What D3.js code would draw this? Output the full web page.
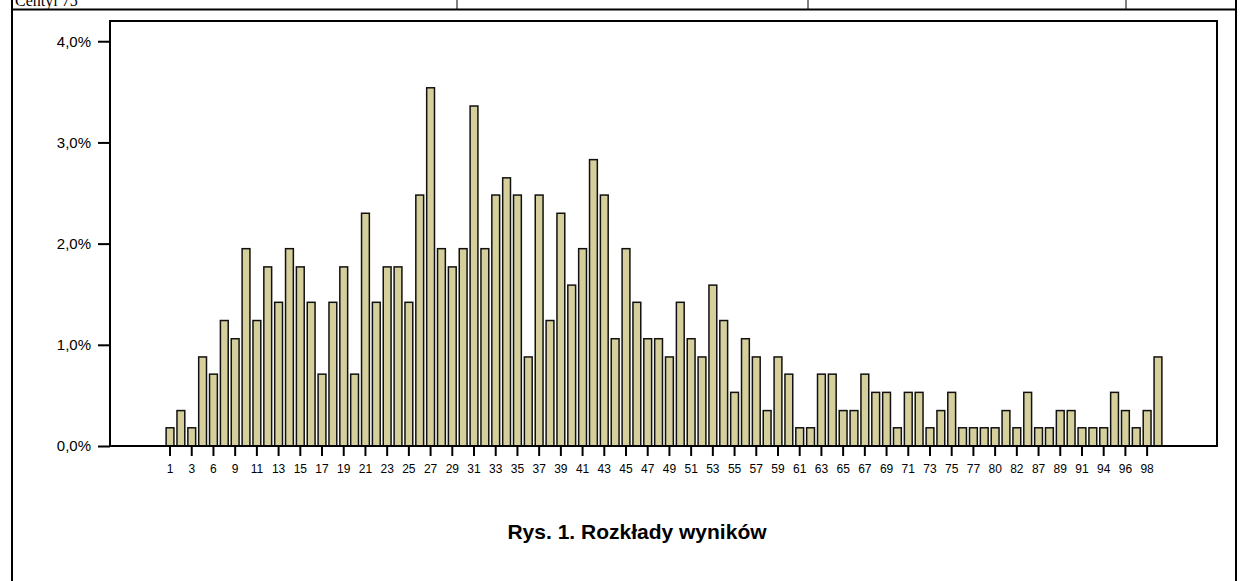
<!DOCTYPE html>
<html>
<head>
<meta charset="utf-8">
<script src="https://cdn.jsdelivr.net/npm/d3@7"></script>
<style>
  body { margin: 0; background: #fff; }
  svg { display: block; }
  .tick text { font-family: "Liberation Sans", Arial, sans-serif; fill: #000; }
</style>
</head>
<body>
<div id="chart"></div>
<script>
// score categories (one bar each) and share of pupils, in percent
var categories = [1, 2, 3, 5, 6, 8, 9, 10, 11, 12, 13, 14, 15, 16, 17, 18, 19, 20, 21, 22,
  23, 24, 25, 26, 27, 28, 29, 30, 31, 32, 33, 34, 35, 36, 37, 38, 39, 40, 41, 42,
  43, 44, 45, 46, 47, 48, 49, 50, 51, 52, 53, 54, 55, 56, 57, 58, 59, 60, 61, 62,
  63, 64, 65, 66, 67, 68, 69, 70, 71, 72, 73, 74, 75, 76, 77, 79, 80, 81, 82, 84,
  87, 88, 89, 90, 91, 93, 94, 95, 96, 97, 98, 99];

var percents = [0.18, 0.35, 0.18, 0.88, 0.71, 1.24, 1.06, 1.95, 1.24, 1.77,
  1.42, 1.95, 1.77, 1.42, 0.71, 1.42, 1.77, 0.71, 2.30, 1.42,
  1.77, 1.77, 1.42, 2.48, 3.54, 1.95, 1.77, 1.95, 3.36, 1.95,
  2.48, 2.65, 2.48, 0.88, 2.48, 1.24, 2.30, 1.59, 1.95, 2.83,
  2.48, 1.06, 1.95, 1.42, 1.06, 1.06, 0.88, 1.42, 1.06, 0.88,
  1.59, 1.24, 0.53, 1.06, 0.88, 0.35, 0.88, 0.71, 0.18, 0.18,
  0.71, 0.71, 0.35, 0.35, 0.71, 0.53, 0.53, 0.18, 0.53, 0.53,
  0.18, 0.35, 0.53, 0.18, 0.18, 0.18, 0.18, 0.35, 0.18, 0.53,
  0.18, 0.18, 0.35, 0.35, 0.18, 0.18, 0.18, 0.53, 0.35, 0.18,
  0.35, 0.88];

var yTicks = [0, 1, 2, 3, 4];
var title = "Rys. 1. Rozkłady wyników";

var width = 1247,
    height = 581;

var frame = { left: 110, right: 1217, top: 21, bottom: 446 };

var svg = d3.select("#chart").append("svg")
    .attr("width", width)
    .attr("height", height);

// page / table lines around the figure
var page = svg.append("g").attr("stroke", "#000").attr("fill", "none");
page.append("line").attr("x1", 12).attr("x2", 1236).attr("y1", 9.5).attr("y2", 9.5).attr("stroke-width", 2);
page.append("line").attr("x1", 12).attr("x2", 12).attr("y1", 0).attr("y2", height).attr("stroke-width", 2);
page.append("line").attr("x1", 1236).attr("x2", 1236).attr("y1", 0).attr("y2", height).attr("stroke-width", 2);
[457, 808, 1126].forEach(function(x) {
  page.append("line").attr("x1", x).attr("x2", x).attr("y1", 0).attr("y2", 9).attr("stroke-width", 1);
});

// the table row above is cut at the page top, as in the source
svg.append("text")
    .attr("x", 15)
    .attr("y", 6)
    .style("font-family", "'Liberation Serif', 'Times New Roman', serif")
    .style("font-size", "16px")
    .text("Centyl 75");

var x = d3.scaleBand()
    .domain(categories)
    .range([164.6, 1163.4])
    .paddingInner(0.28)
    .paddingOuter(0.14);

var y = d3.scaleLinear()
    .domain([0, 4.2])
    .range([frame.bottom, frame.top]);

var locale = d3.formatLocale({ decimal: ",", thousands: " ", grouping: [3], currency: ["", " zł"] });
var pct = locale.format(".1f");

// bars
svg.append("g")
  .selectAll("rect")
  .data(categories)
  .enter().append("rect")
    .attr("x", function(d) { return x(d); })
    .attr("y", function(d, i) { return y(percents[i]); })
    .attr("width", x.bandwidth())
    .attr("height", function(d, i) { return y(0) - y(percents[i]); })
    .attr("fill", "#d4cf9b")
    .attr("stroke", "#111")
    .attr("stroke-width", 1.5);

// y axis
var yAxis = svg.append("g")
    .attr("transform", "translate(" + frame.left + ",0)")
    .call(d3.axisLeft(y).tickValues(yTicks).tickSize(12).tickPadding(7)
      .tickFormat(function(d) { return pct(d) + "%"; }));
yAxis.select(".domain").remove();
yAxis.selectAll(".tick line").attr("stroke", "#000").attr("stroke-width", 2);
yAxis.selectAll(".tick text").style("font-size", "15px");

// x axis, every other category labelled
var xAxis = svg.append("g")
    .attr("transform", "translate(0," + frame.bottom + ")")
    .call(d3.axisBottom(x)
      .tickValues(categories.filter(function(d, i) { return i % 2 === 0; }))
      .tickSize(10).tickPadding(8));
xAxis.select(".domain").remove();
xAxis.selectAll(".tick line").attr("stroke", "#000").attr("stroke-width", 2);
xAxis.selectAll(".tick text").style("font-size", "12px");

// plot frame
svg.append("rect")
    .attr("x", frame.left)
    .attr("y", frame.top)
    .attr("width", frame.right - frame.left)
    .attr("height", frame.bottom - frame.top)
    .attr("fill", "none")
    .attr("stroke", "#000")
    .attr("stroke-width", 2);

svg.append("text")
    .attr("x", 637)
    .attr("y", 539)
    .attr("text-anchor", "middle")
    .style("font-family", "'Liberation Sans', Arial, sans-serif")
    .style("font-weight", "bold")
    .style("font-size", "21px")
    .text(title);
</script>
</body>
</html>
